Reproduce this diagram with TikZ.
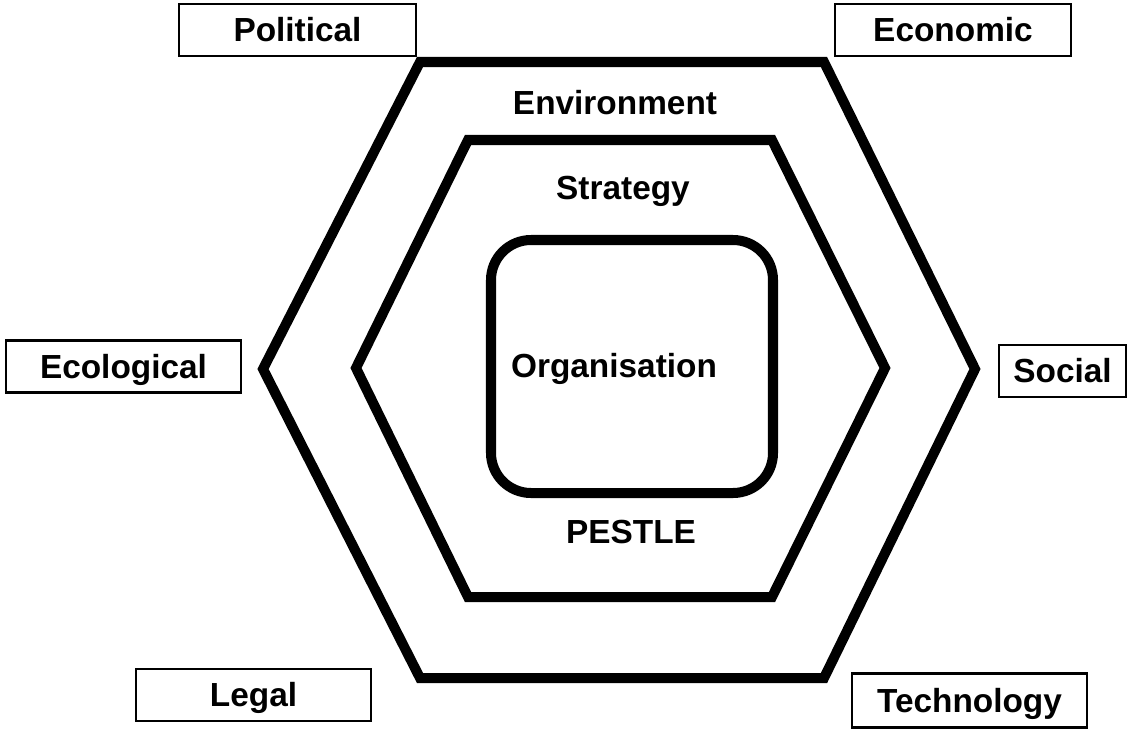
\documentclass[tikz,border=0pt]{standalone}
\usepackage{fontspec}
\setmainfont{Liberation Sans}
\usepackage{tikz}
\usetikzlibrary{positioning}

\begin{document}
\begin{tikzpicture}[x=0.02cm, y=-0.02cm,
  font=\fontsize{19}{22}\selectfont\bfseries,
  ring/.style={line width=5.7pt, line join=miter},
  factor/.style={draw, line width=1.4pt, minimum height=1.04cm, inner sep=0pt,
    text height=13.5pt, text depth=0pt, align=center},
  tag/.style={anchor=base, inner sep=0pt}]

\useasboundingbox (0,0) rectangle (1130,731);

% ---------- outer hexagon (environment) ----------
\draw[ring] (420,62) -- (824,62) -- (975,369) -- (824,678)
  -- (420,678) -- (263,369) -- cycle;
\node[tag] (env) at (615,114) {Environment};

% ---------- inner hexagon (strategy) ----------
\draw[ring] (468,140) -- (772,140) -- (885,368) -- (772,597)
  -- (468,597) -- (356,368) -- cycle;
\node[tag] (strat) at (623,199) {Strategy};
\node[tag] (pestle) at (631,543) {PESTLE};

% ---------- organisation core ----------
\draw[ring, rounded corners=0.8cm] (491,240) rectangle (773,493);
\node[tag] (org) at (614,377) {Organisation};

% ---------- PESTLE factors ----------
\node[factor, minimum width=4.74cm] (pol)  at (297.5,30)  {Political};
\node[factor, minimum width=4.72cm] (eco)  at (953,30)    {Economic};
\node[factor, minimum width=4.70cm] (ecol) at (123.5,366.5) {Ecological};
\node[factor, minimum width=2.54cm] (soc)  at (1062.5,371) {Social};
\node[factor, minimum width=4.70cm] (leg)  at (253.5,695) {Legal};
\node[factor, minimum width=4.70cm, minimum height=1.08cm] (tech) at (969.5,700.5) {Technology};
\end{tikzpicture}
\end{document}
